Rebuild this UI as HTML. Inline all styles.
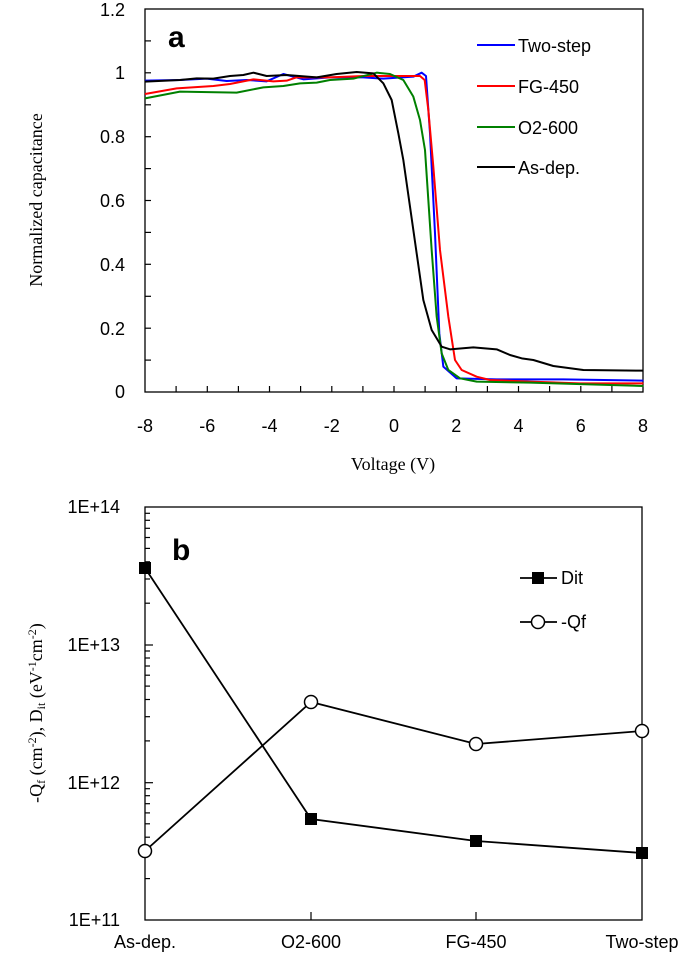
<!DOCTYPE html>
<html><head><meta charset="utf-8"><style>
html,body{margin:0;padding:0;background:#fff;}
svg{display:block;}
.s{font-family:"Liberation Sans",sans-serif;}
.r{font-family:"Liberation Serif",serif;}
</style></head><body>
<svg width="685" height="954" viewBox="0 0 685 954" xmlns="http://www.w3.org/2000/svg">
<!-- Plot a -->
<rect x="145" y="9" width="498" height="383" fill="none" stroke="#000" stroke-width="1.3"/>
<g stroke="#000" stroke-width="1.2">
<line x1="145" y1="72.8" x2="151" y2="72.8"/><line x1="145" y1="136.7" x2="151" y2="136.7"/><line x1="145" y1="200.5" x2="151" y2="200.5"/><line x1="145" y1="264.3" x2="151" y2="264.3"/><line x1="145" y1="328.2" x2="151" y2="328.2"/>
<line x1="145" y1="40.9" x2="151" y2="40.9"/><line x1="145" y1="104.8" x2="151" y2="104.8"/><line x1="145" y1="168.6" x2="151" y2="168.6"/><line x1="145" y1="232.4" x2="151" y2="232.4"/><line x1="145" y1="296.3" x2="151" y2="296.3"/><line x1="145" y1="360.1" x2="151" y2="360.1"/>
</g>
<g stroke="#000" stroke-width="1.2">
<line x1="176.1" y1="392" x2="176.1" y2="386"/><line x1="207.3" y1="392" x2="207.3" y2="386"/><line x1="238.4" y1="392" x2="238.4" y2="386"/><line x1="269.5" y1="392" x2="269.5" y2="386"/><line x1="300.6" y1="392" x2="300.6" y2="386"/><line x1="331.8" y1="392" x2="331.8" y2="386"/><line x1="362.9" y1="392" x2="362.9" y2="386"/><line x1="394" y1="392" x2="394" y2="386"/><line x1="425.1" y1="392" x2="425.1" y2="386"/><line x1="456.3" y1="392" x2="456.3" y2="386"/><line x1="487.4" y1="392" x2="487.4" y2="386"/><line x1="518.5" y1="392" x2="518.5" y2="386"/><line x1="549.6" y1="392" x2="549.6" y2="386"/><line x1="580.8" y1="392" x2="580.8" y2="386"/><line x1="611.9" y1="392" x2="611.9" y2="386"/>
</g>
<g class="s" font-size="18" text-anchor="end">
<text x="125" y="16">1.2</text><text x="125" y="79">1</text><text x="125" y="143">0.8</text><text x="125" y="207">0.6</text><text x="125" y="271">0.4</text><text x="125" y="335">0.2</text><text x="125" y="398">0</text>
</g>
<g class="s" font-size="18" text-anchor="middle">
<text x="145" y="432">-8</text><text x="207.3" y="432">-6</text><text x="269.5" y="432">-4</text><text x="331.8" y="432">-2</text><text x="394" y="432">0</text><text x="456.3" y="432">2</text><text x="518.5" y="432">4</text><text x="580.8" y="432">6</text><text x="643" y="432">8</text>
</g>
<text class="r" font-size="18" x="393" y="470" text-anchor="middle">Voltage (V)</text>
<text class="r" font-size="18" transform="translate(42,200) rotate(-90)" text-anchor="middle">Normalized capacitance</text>
<text class="s" font-size="30" font-weight="bold" x="168" y="47">a</text>
<g transform="translate(130,0) scale(0.33333)" fill="none" stroke-width="6" stroke-linejoin="round">
<path stroke="#0000ff" d="M45,242 L150,240 L230,236 L290,243 L350,240 L410,244 L460,222 L520,238 L600,232 L700,232 L760,236 L850,230 L875,218 L888,228 L900,400 L915,700 L928,1000 L940,1100 L980,1135 L1100,1138 L1300,1138 L1540,1142"/>
<path stroke="#ff0000" d="M45,282 L140,265 L250,258 L300,252 L370,238 L430,244 L470,242 L500,232 L600,232 L700,228 L870,228 L884,240 L895,330 L910,500 L930,750 L955,950 L975,1080 L995,1110 L1040,1130 L1080,1140 L1200,1145 L1350,1150 L1540,1150"/>
<path stroke="#008000" d="M45,295 L150,275 L320,278 L400,262 L460,258 L510,250 L560,248 L600,240 L670,236 L740,218 L780,222 L820,240 L850,290 L870,360 L885,450 L895,600 L905,750 L920,950 L935,1060 L955,1110 L990,1135 L1040,1145 L1200,1148 L1540,1158"/>
<path stroke="#000" d="M45,245 L150,240 L200,235 L250,236 L300,228 L340,225 L370,218 L410,228 L470,225 L560,232 L620,222 L680,216 L730,220 L760,250 L785,300 L805,400 L820,480 L840,620 L860,760 L880,900 L905,990 L935,1040 L960,1048 L1030,1042 L1100,1048 L1140,1065 L1175,1075 L1210,1080 L1270,1098 L1360,1110 L1540,1112"/>
</g>
<g stroke-width="2">
<line x1="477" y1="45" x2="515" y2="45" stroke="#0000ff"/>
<line x1="477" y1="86" x2="515" y2="86" stroke="#ff0000"/>
<line x1="477" y1="127" x2="515" y2="127" stroke="#008000"/>
<line x1="477" y1="167" x2="515" y2="167" stroke="#000"/>
</g>
<g class="s" font-size="18">
<text x="518" y="52">Two-step</text><text x="518" y="93">FG-450</text><text x="518" y="134">O2-600</text><text x="518" y="174">As-dep.</text>
</g>

<!-- Plot b -->
<rect x="145" y="507" width="497" height="413" fill="none" stroke="#000" stroke-width="1.3"/>
<g stroke="#000" stroke-width="1.2">
<line x1="145" y1="645" x2="153" y2="645"/><line x1="145" y1="782.7" x2="153" y2="782.7"/>
<line x1="145" y1="878.6" x2="150" y2="878.6"/><line x1="145" y1="854.4" x2="150" y2="854.4"/><line x1="145" y1="837.2" x2="150" y2="837.2"/><line x1="145" y1="823.8" x2="150" y2="823.8"/><line x1="145" y1="812.9" x2="150" y2="812.9"/><line x1="145" y1="803.7" x2="150" y2="803.7"/><line x1="145" y1="795.7" x2="150" y2="795.7"/><line x1="145" y1="788.7" x2="150" y2="788.7"/>
<line x1="145" y1="740.9" x2="150" y2="740.9"/><line x1="145" y1="716.7" x2="150" y2="716.7"/><line x1="145" y1="699.5" x2="150" y2="699.5"/><line x1="145" y1="686.1" x2="150" y2="686.1"/><line x1="145" y1="675.2" x2="150" y2="675.2"/><line x1="145" y1="666" x2="150" y2="666"/><line x1="145" y1="658" x2="150" y2="658"/><line x1="145" y1="651" x2="150" y2="651"/>
<line x1="145" y1="603.2" x2="150" y2="603.2"/><line x1="145" y1="579" x2="150" y2="579"/><line x1="145" y1="561.8" x2="150" y2="561.8"/><line x1="145" y1="548.4" x2="150" y2="548.4"/><line x1="145" y1="537.5" x2="150" y2="537.5"/><line x1="145" y1="528.3" x2="150" y2="528.3"/><line x1="145" y1="520.3" x2="150" y2="520.3"/><line x1="145" y1="513.3" x2="150" y2="513.3"/>
<line x1="311" y1="920" x2="311" y2="912"/><line x1="476" y1="920" x2="476" y2="912"/>
</g>
<g class="s" font-size="18" text-anchor="end">
<text x="120" y="513">1E+14</text><text x="120" y="651">1E+13</text><text x="120" y="789">1E+12</text><text x="120" y="926">1E+11</text>
</g>
<g class="s" font-size="18" text-anchor="middle">
<text x="145" y="948">As-dep.</text><text x="311" y="948">O2-600</text><text x="476" y="948">FG-450</text><text x="642" y="948">Two-step</text>
</g>
<text class="r" font-size="18" transform="translate(42,713) rotate(-90)" text-anchor="middle">-Q<tspan font-size="12" dy="3">f</tspan><tspan dy="-3"> (cm</tspan><tspan font-size="12" dy="-6">-2</tspan><tspan dy="6">), D</tspan><tspan font-size="12" dy="3">it</tspan><tspan dy="-3"> (eV</tspan><tspan font-size="12" dy="-6">-1</tspan><tspan dy="6">cm</tspan><tspan font-size="12" dy="-6">-2</tspan><tspan dy="6">)</tspan></text>
<text class="s" font-size="30" font-weight="bold" x="172" y="560">b</text>
<g fill="none" stroke="#000" stroke-width="1.8">
<polyline points="145,568 311,819 476,841 642,853"/>
<polyline points="145,851 311,702 476,744 642,731"/>
</g>
<g fill="#000">
<rect x="139" y="562" width="12" height="12"/><rect x="305" y="813" width="12" height="12"/><rect x="470" y="835" width="12" height="12"/><rect x="636" y="847" width="12" height="12"/>
</g>
<g fill="#fff" stroke="#000" stroke-width="1.5">
<circle cx="145" cy="851" r="6.5"/><circle cx="311" cy="702" r="6.5"/><circle cx="476" cy="744" r="6.5"/><circle cx="642" cy="731" r="6.5"/>
</g>
<line x1="520" y1="578" x2="557" y2="578" stroke="#000" stroke-width="1.8"/>
<rect x="532" y="572" width="12" height="12" fill="#000"/>
<line x1="520" y1="622" x2="557" y2="622" stroke="#000" stroke-width="1.8"/>
<circle cx="538" cy="622" r="6.5" fill="#fff" stroke="#000" stroke-width="1.5"/>
<g class="s" font-size="18"><text x="561" y="584">Dit</text><text x="561" y="628">-Qf</text></g>
</svg>
</body></html>
